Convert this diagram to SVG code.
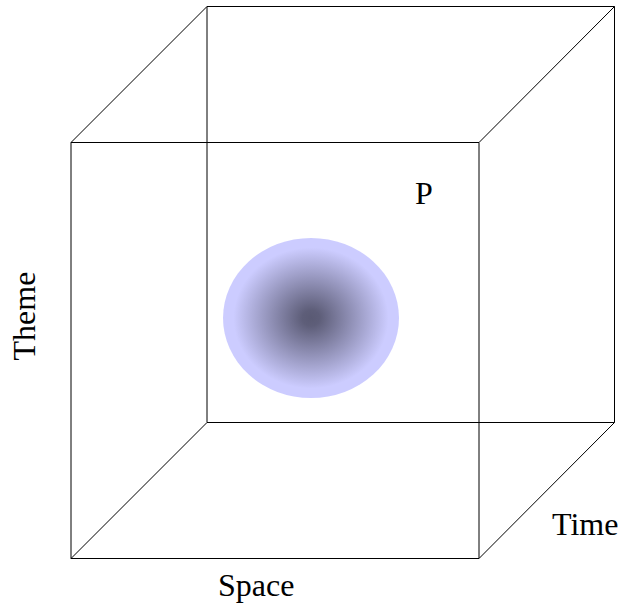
<svg xmlns="http://www.w3.org/2000/svg" width="618" height="609" viewBox="0 0 618 609">
<style>
.e{stroke:#000;stroke-width:1;fill:none}
.t{font-family:"Liberation Serif","Times New Roman",serif;font-size:32px;fill:#000}
</style>
<defs>
<radialGradient id="g" cx="0.5" cy="0.5" r="0.5">
<stop offset="0" stop-color="#5a5a74"/>
<stop offset="0.1" stop-color="#5e5e79"/>
<stop offset="0.88" stop-color="#ccccff"/>
<stop offset="1" stop-color="#ccccff"/>
</radialGradient>
</defs>
<rect width="618" height="609" fill="#fff"/>
<g id="blob"><ellipse cx="311" cy="318" rx="88" ry="80" fill="url(#g)"/></g>
<g id="connectors">
<path class="e" d="M207,6.5H614.5V422.5H207ZM71,142.5H479V558.5H71Z"/>
<path class="e" d="M71,142.5L207,6.5M479,142.5L614.5,6.5M479,558.5L614.5,422.5M71,558.5L207,422.5"/>
</g>
<g id="labels">
<text class="t" x="415" y="204">P</text>
<text class="t" x="552" y="535">Time</text>
<text class="t" x="218" y="596">Space</text>
<text class="t" transform="translate(35,316) rotate(-90)" text-anchor="middle">Theme</text>
</g>
</svg>
